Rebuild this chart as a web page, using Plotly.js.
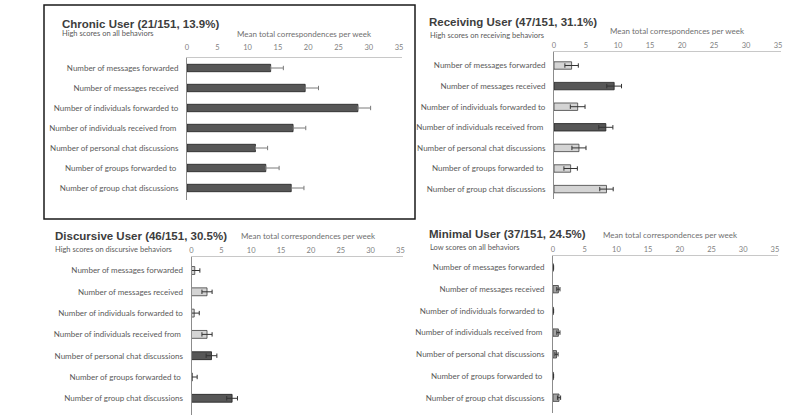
<!DOCTYPE html>
<html>
<head>
<meta charset="utf-8">
<script src="https://cdn.plot.ly/plotly-3.0.1.min.js"></script>
<style>html,body{margin:0;padding:0;background:#fff;}#chart{width:800px;height:418px;}</style>
</head>
<body>
<div id="chart"></div>
<script>
// ---- Data ----
const categories = [
  "Number of messages forwarded",
  "Number of messages received",
  "Number of individuals forwarded to",
  "Number of individuals received from\u00a0",
  "Number of personal chat discussions",
  "Number of groups forwarded to\u00a0",
  "Number of group chat discussions"
];
const xTickVals = [0, 5, 10, 15, 20, 25, 30, 35];
const xTickText = ["0", "5", "10", "15", "20", "25", "30", "35"];

const panelTitles = ["Chronic User (21/151, 13.9%)", "Receiving User (47/151, 31.1%)", "Discursive User (46/151, 30.5%)", "Minimal User (37/151, 24.5%)"];
const panelSubtitles = ["High scores on all behaviors", "High scores on receiving behaviors", "High scores on discursive behaviors", "Low scores on all behaviors"];
const axisTitle = "Mean total correspondences per week";

const chronicMean = [13.8, 19.5, 28.2, 17.5, 11.3, 13.0, 17.2];
const chronicErr  = [2.1, 2.2, 2.1, 2.1, 2.0, 2.2, 2.1];
const chronicHigh = [1, 1, 1, 1, 1, 1, 1];

const receivingMean = [2.75, 9.4, 3.7, 8.1, 3.9, 2.6, 8.2];
const receivingErr  = [1.05, 1.15, 1.15, 1.1, 1.1, 1.05, 1.05];
const receivingHigh = [0, 1, 0, 1, 0, 0, 0];

const discursiveMean = [0.55, 2.6, 0.45, 2.6, 3.35, 0.15, 6.8];
const discursiveErr  = [0.85, 0.85, 0.85, 0.85, 0.9, 0.8, 0.9];
const discursiveHigh = [0, 0, 0, 0, 1, 0, 1];

const minimalMean = [0.05, 0.85, 0.05, 0.85, 0.55, 0.05, 0.95];
const minimalErr  = [0.05, 0.25, 0.05, 0.25, 0.25, 0.05, 0.25];
const minimalHigh = [2, 2, 2, 2, 2, 2, 2];

// ---- Styling ----
const W = 800, H = 418;
const fx = p => p / W;
const fy = p => 1 - p / H;
const fillColors = ["#d4d4d4", "#575757", "#a3a3a3"];
const lineColors = ["#3f3f3f", "#1e1e1e", "#3a3a3a"];
const labelFont = "Lato, 'Open Sans', sans-serif";
const titleFont = "'Liberation Sans', Arial, sans-serif";

// pixel geometry per panel
const panels = [
  {mean: chronicMean, err: chronicErr, high: chronicHigh, x0: 187, perUnit: 6.06, top: 58, bottom: 200, first: 68, step: 20, bw: 0.37, errColor: "#7a7a7a", plusOnly: true,
   tx: 60, ty: 24, sx: 60, sy: 34, ax: 304, ay: 34},
  {mean: receivingMean, err: receivingErr, high: receivingHigh, x0: 554, perUnit: 6.4, top: 52, bottom: 199, first: 65.5, step: 20.6, bw: 0.36, errColor: "#333333", plusOnly: false,
   tx: 427, ty: 22, sx: 428, sy: 35, ax: 677, ay: 31},
  {mean: discursiveMean, err: discursiveErr, high: discursiveHigh, x0: 191.5, perUnit: 5.97, top: 257, bottom: 415, first: 270.5, step: 21.3, bw: 0.37, errColor: "#333333", plusOnly: false,
   tx: 53, ty: 236, sx: 53, sy: 249, ax: 308, ay: 236},
  {mean: minimalMean, err: minimalErr, high: minimalHigh, x0: 553, perUnit: 6.34, top: 256, bottom: 413, first: 267.5, step: 21.7, bw: 0.34, errColor: "#333333", plusOnly: false,
   tx: 427, ty: 234, sx: 428, sy: 247, ax: 670, ay: 235}
];

const data = [];
const layout = {
  width: W, height: H,
  margin: {l: 0, r: 0, t: 0, b: 0},
  paper_bgcolor: "#ffffff", plot_bgcolor: "rgba(0,0,0,0)",
  showlegend: false,
  annotations: [],
  shapes: [{type: "rect", xref: "paper", yref: "paper", x0: fx(44), x1: fx(415), y0: fy(219), y1: fy(5), line: {color: "#1a1a1a", width: 1.5}}]
};
const xMax = 35.5;

panels.forEach((p, k) => {
  const n = k === 0 ? "" : String(k + 1);
  data.push({
    type: "bar", orientation: "h",
    x: p.mean, y: categories,
    xaxis: "x" + n, yaxis: "y" + n,
    width: p.bw,
    marker: {color: p.high.map(h => fillColors[h]), line: {color: p.high.map(h => lineColors[h]), width: 0.8}},
    error_x: {type: "data", array: p.err, symmetric: !p.plusOnly, arrayminus: p.plusOnly ? p.err.map(() => 0) : p.err,
              color: p.errColor, thickness: 1, width: 2.2},
    hoverinfo: "x+y"
  });
  layout["xaxis" + n] = {
    domain: [fx(p.x0), fx(p.x0 + xMax * p.perUnit)],
    range: [0, xMax], anchor: "y" + n, side: "top",
    tickmode: "array", tickvals: xTickVals, ticktext: xTickText,
    showgrid: false, zeroline: false, showline: true, linecolor: "#c8c8c8", linewidth: 1,
    ticks: "", tickfont: {family: labelFont, size: 7.5, color: "#7f7f7f"}, ticklabelstandoff: k === 0 ? 4 : 0,
    fixedrange: true
  };
  layout["yaxis" + n] = {
    domain: [fy(p.bottom), fy(p.top)],
    range: [(p.bottom - p.first) / p.step, (p.top - p.first) / p.step],
    anchor: "x" + n, type: "category",
    showgrid: false, zeroline: false, showline: true, linecolor: "#8c8c8c", linewidth: 1,
    ticks: "", ticklabelstandoff: 6,
    tickfont: {family: labelFont, size: 8, color: "#595959"},
    fixedrange: true
  };
  layout.annotations.push(
    {xref: "paper", yref: "paper", x: fx(p.tx), y: fy(p.ty), xanchor: "left", yanchor: "middle", showarrow: false,
     text: "<b>" + panelTitles[k] + "</b>", font: {family: titleFont, size: 11.5, color: "#3d3d3d"}},
    {xref: "paper", yref: "paper", x: fx(p.sx), y: fy(p.sy), xanchor: "left", yanchor: "middle", showarrow: false,
     text: panelSubtitles[k], font: {family: labelFont, size: 7.5, color: "#595959"}},
    {xref: "paper", yref: "paper", x: fx(p.ax), y: fy(p.ay), xanchor: "center", yanchor: "middle", showarrow: false,
     text: axisTitle, font: {family: labelFont, size: 8, color: "#6f6f6f"}}
  );
});

Plotly.newPlot("chart", data, layout, {displayModeBar: false, staticPlot: true});
</script>
</body>
</html>
